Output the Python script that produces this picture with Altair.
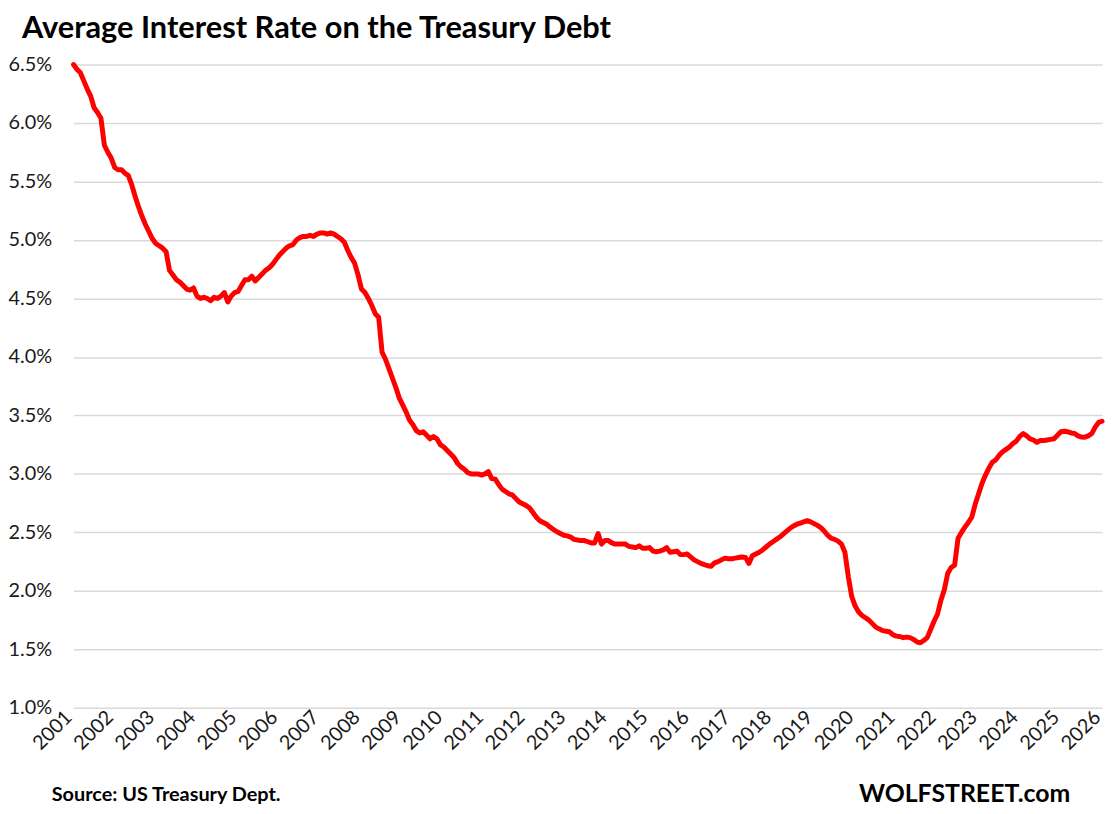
import altair as alt
import pandas as pd

# Average interest rate on total Treasury debt, % (monthly, Jan 2001 - Jan 2026)
r2001 = [6.50, 6.46, 6.43, 6.36, 6.29, 6.23, 6.13, 6.09, 6.04, 5.81, 5.75, 5.70]
r2002 = [5.62, 5.60, 5.60, 5.57, 5.55, 5.47, 5.37, 5.28, 5.20, 5.13, 5.07, 5.01]
r2003 = [4.97, 4.95, 4.93, 4.90, 4.74, 4.70, 4.66, 4.64, 4.61, 4.58, 4.57, 4.59]
r2004 = [4.52, 4.50, 4.51, 4.50, 4.48, 4.51, 4.50, 4.52, 4.55, 4.47, 4.52, 4.55]
r2005 = [4.56, 4.61, 4.66, 4.66, 4.69, 4.65, 4.68, 4.71, 4.74, 4.76, 4.79, 4.83]
r2006 = [4.87, 4.90, 4.93, 4.95, 4.96, 5.00, 5.02, 5.03, 5.03, 5.04, 5.03, 5.05]
r2007 = [5.06, 5.06, 5.05, 5.06, 5.05, 5.03, 5.01, 4.98, 4.91, 4.85, 4.80, 4.70]
r2008 = [4.58, 4.55, 4.50, 4.44, 4.37, 4.34, 4.04, 3.98, 3.90, 3.82, 3.74, 3.65]
r2009 = [3.59, 3.53, 3.46, 3.42, 3.37, 3.35, 3.36, 3.33, 3.30, 3.32, 3.30, 3.25]
r2010 = [3.23, 3.20, 3.17, 3.14, 3.09, 3.06, 3.04, 3.01, 3.00, 3.00, 3.00, 2.99]
r2011 = [3.00, 3.02, 2.96, 2.955, 2.91, 2.87, 2.85, 2.83, 2.82, 2.79, 2.76, 2.745]
r2012 = [2.73, 2.71, 2.67, 2.63, 2.60, 2.585, 2.57, 2.545, 2.525, 2.505, 2.49, 2.475]
r2013 = [2.47, 2.46, 2.44, 2.435, 2.43, 2.43, 2.42, 2.41, 2.41, 2.49, 2.40, 2.43]
r2014 = [2.43, 2.41, 2.40, 2.40, 2.40, 2.40, 2.38, 2.375, 2.37, 2.385, 2.365, 2.365]
r2015 = [2.37, 2.34, 2.335, 2.34, 2.35, 2.37, 2.33, 2.335, 2.34, 2.31, 2.31, 2.315]
r2016 = [2.29, 2.265, 2.25, 2.235, 2.225, 2.215, 2.21, 2.24, 2.25, 2.265, 2.28, 2.275]
r2017 = [2.275, 2.28, 2.285, 2.29, 2.285, 2.235, 2.30, 2.315, 2.33, 2.35, 2.375, 2.40]
r2018 = [2.42, 2.44, 2.46, 2.485, 2.51, 2.535, 2.555, 2.57, 2.58, 2.59, 2.60, 2.59]
r2019 = [2.575, 2.56, 2.54, 2.51, 2.475, 2.45, 2.44, 2.425, 2.40, 2.33, 2.12, 1.95]
r2020 = [1.87, 1.82, 1.79, 1.77, 1.75, 1.72, 1.69, 1.675, 1.66, 1.655, 1.65, 1.625]
r2021 = [1.613, 1.61, 1.60, 1.605, 1.60, 1.585, 1.565, 1.556, 1.576, 1.60, 1.67, 1.74]
r2022 = [1.80, 1.92, 2.01, 2.15, 2.20, 2.22, 2.45, 2.50, 2.545, 2.585, 2.63, 2.74]
r2023 = [2.83, 2.92, 2.99, 3.05, 3.10, 3.12, 3.16, 3.19, 3.21, 3.23, 3.26, 3.28]
r2024 = [3.32, 3.345, 3.325, 3.30, 3.29, 3.27, 3.285, 3.285, 3.29, 3.295, 3.30, 3.33]
r2025 = [3.36, 3.365, 3.36, 3.35, 3.345, 3.325, 3.315, 3.314, 3.325, 3.345, 3.40, 3.44]
r2026 = [3.45]

yearly = [r2001, r2002, r2003, r2004, r2005, r2006, r2007, r2008, r2009, r2010,
          r2011, r2012, r2013, r2014, r2015, r2016, r2017, r2018, r2019, r2020,
          r2021, r2022, r2023, r2024, r2025, r2026]

YEAR_TICKS = list(range(2001, 2027))
Y_TICKS = [1.0, 1.5, 2.0, 2.5, 3.0, 3.5, 4.0, 4.5, 5.0, 5.5, 6.0, 6.5]

TITLE = "Average Interest Rate on the Treasury Debt"
SOURCE = "Source: US Treasury Dept."
BRAND = "WOLFSTREET.com"

rows = []
for yr, vals in zip(YEAR_TICKS, yearly):
    for mi, v in enumerate(vals):
        rows.append({"date": f"{yr}-{mi + 1:02d}", "t": yr + mi / 12.0, "rate": v})
df = pd.DataFrame(rows)

FONT = "Lato"
TXT = "#1a1a1a"

line = alt.Chart(df).mark_line(
    color="#ff0000", strokeWidth=5, strokeJoin="round", strokeCap="round"
).encode(
    x=alt.X("t:Q",
            scale=alt.Scale(domain=[2001, 2026], nice=False, zero=False),
            axis=alt.Axis(values=YEAR_TICKS, format="d", title=None,
                          labelAngle=-45, labelAlign="right", labelBaseline="middle",
                          labelPadding=6, labelOffset=-5, labelFontSize=20,
                          labelFont=FONT, labelColor=TXT, domain=False,
                          ticks=False, grid=False,
                          labelOverlap=False, labelFlush=False)),
    y=alt.Y("rate:Q",
            scale=alt.Scale(domain=[1.0, 6.5], nice=False, zero=False),
            axis=alt.Axis(values=Y_TICKS, title=None,
                          labelExpr="format(datum.value, '.1f') + '%'",
                          labelFontSize=20, labelFont=FONT, labelColor=TXT,
                          labelPadding=22, domain=False, ticks=False,
                          grid=True, gridColor="#d9d9d9", gridWidth=1.5)),
)

foot_df = pd.DataFrame({"label": [SOURCE]})
source_txt = alt.Chart(foot_df).mark_text(
    align="left", baseline="alphabetic", fontSize=20, fontWeight="bold",
    font=FONT, color="#000000"
).encode(x=alt.value(-22), y=alt.value(742), text="label:N")

brand_df = pd.DataFrame({"label": [BRAND]})
brand_txt = alt.Chart(brand_df).mark_text(
    align="right", baseline="alphabetic", fontSize=25, fontWeight="bold",
    font=FONT, color="#000000"
).encode(x=alt.value(1004), y=alt.value(743), text="label:N")

chart = alt.layer(line, source_txt, brand_txt).properties(
    width=1036, height=648,
    title=alt.TitleParams(TITLE, anchor="start", frame="group", dx=-52, dy=28,
                          fontSize=31, font=FONT, fontWeight="bold",
                          color="#000000", offset=14, baseline="alphabetic"),
    padding={"left": 66, "top": 54, "right": 6, "bottom": 104},
    autosize=alt.AutoSizeParams(type="none"),
).configure_view(stroke=None)

chart.save("out.html", embed_options={"renderer": "svg", "actions": False})
